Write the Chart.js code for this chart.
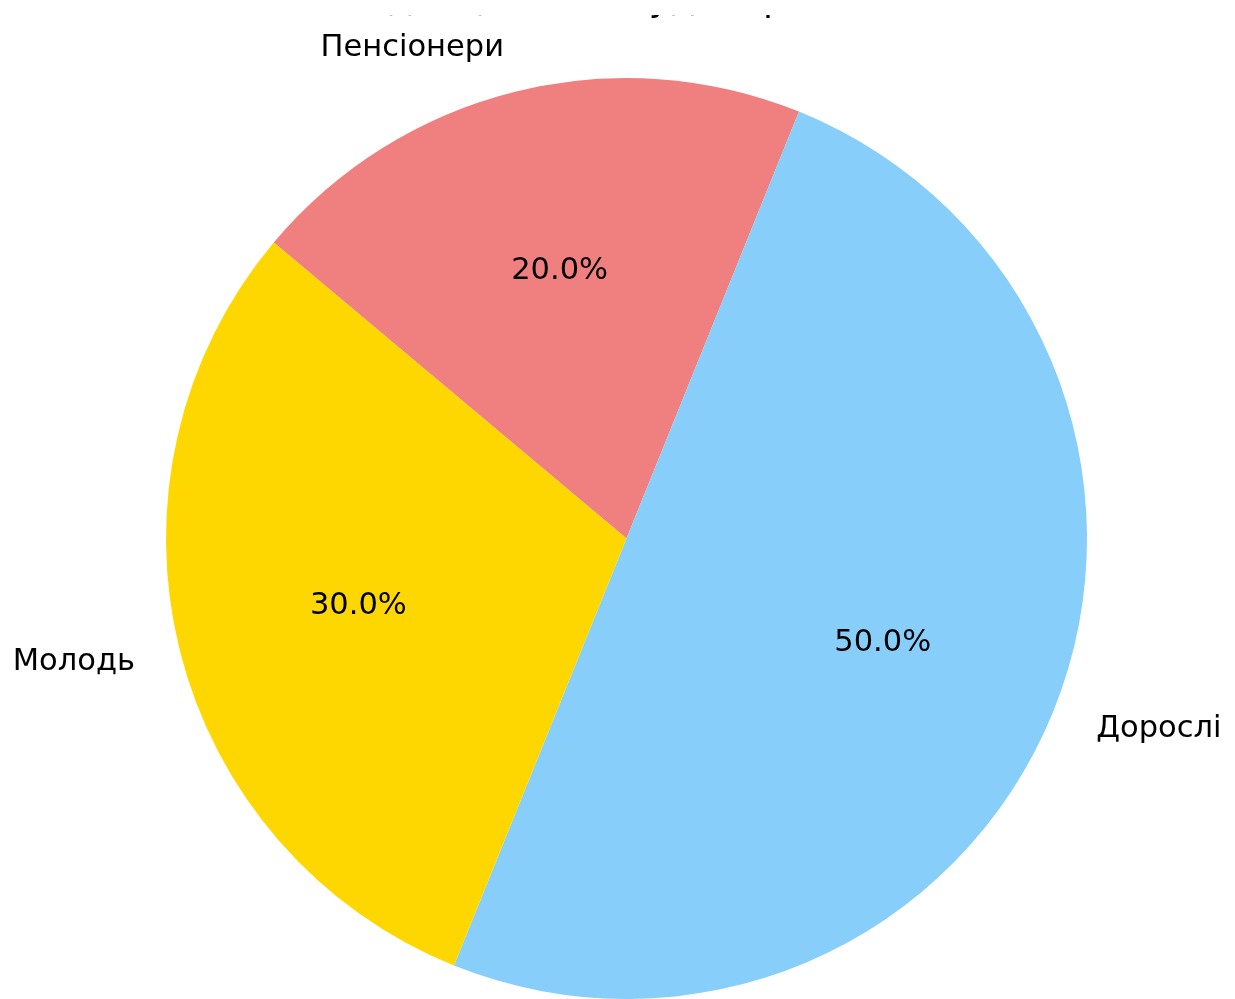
<!DOCTYPE html>
<html>
<head>
<meta charset="utf-8">
<script src="https://cdn.jsdelivr.net/npm/chart.js@4/dist/chart.umd.min.js"></script>
<style>
  html, body { margin: 0; padding: 0; background: #ffffff; overflow: hidden; }
  /* the figure frame starts a little below the page top and cuts off the heading */
  #frame { position: absolute; left: 0; top: 15px; width: 1235px; height: 984px; overflow: hidden; }
  #wrap { position: absolute; left: 0; top: -75px; width: 1235px; height: 1059px; }
</style>
</head>
<body>
<div id="frame"><div id="wrap"><canvas id="chart" width="1235" height="1059"></canvas></div></div>
<script>
// Age groups, listed clockwise from the upper-left edge of the pie
const categories = ['Пенсіонери', 'Дорослі', 'Молодь'];
const shares = [20, 50, 30];
const sliceColors = ['#F08080', '#87CEFA', '#FFD700'];
const titleText = 'Розподіл цільової аудиторії за віком';

const FONT = "'DejaVu Sans', 'Liberation Sans', sans-serif";

// Category names outside the rim and percentages inside each slice
const sliceLabels = {
  id: 'sliceLabels',
  afterDatasetsDraw(chart) {
    const ctx = chart.ctx;
    const meta = chart.getDatasetMeta(0);
    const values = chart.data.datasets[0].data;
    const total = values.reduce((a, b) => a + b, 0);
    ctx.save();
    ctx.fillStyle = '#000000';
    ctx.font = '30.5px ' + FONT;
    ctx.textBaseline = 'middle';
    meta.data.forEach((arc, i) => {
      const p = arc.getProps(['x', 'y', 'startAngle', 'endAngle', 'outerRadius'], true);
      const mid = (p.startAngle + p.endAngle) / 2;
      const c = Math.cos(mid), s = Math.sin(mid);
      const lx = p.x + 1.1 * p.outerRadius * c;
      const ly = p.y + 1.1 * p.outerRadius * s + 1;
      ctx.textAlign = c >= 0 ? 'left' : 'right';
      ctx.fillText(chart.data.labels[i], lx, ly);
      const px = p.x + 0.6 * p.outerRadius * c;
      const py = p.y + 0.6 * p.outerRadius * s + 1;
      ctx.textAlign = 'center';
      ctx.fillText((values[i] / total * 100).toFixed(1) + '%', px, py);
    });
    ctx.restore();
  }
};

new Chart(document.getElementById('chart'), {
  type: 'pie',
  data: {
    labels: categories,
    datasets: [{
      data: shares,
      backgroundColor: sliceColors,
      borderWidth: 0,
      hoverOffset: 0
    }]
  },
  options: {
    responsive: false,
    animation: false,
    rotation: -50,
    radius: 460.5,
    layout: { padding: { left: 18, right: 0, top: 0, bottom: 0 } },
    plugins: {
      legend: { display: false },
      tooltip: { enabled: false },
      title: {
        display: true,
        text: titleText,
        color: '#000000',
        font: { family: FONT, size: 36.6, weight: 'normal', lineHeight: 1.2 },
        padding: { top: 38.4, bottom: 55.7 }
      }
    }
  },
  plugins: [sliceLabels]
});
</script>
</body>
</html>
